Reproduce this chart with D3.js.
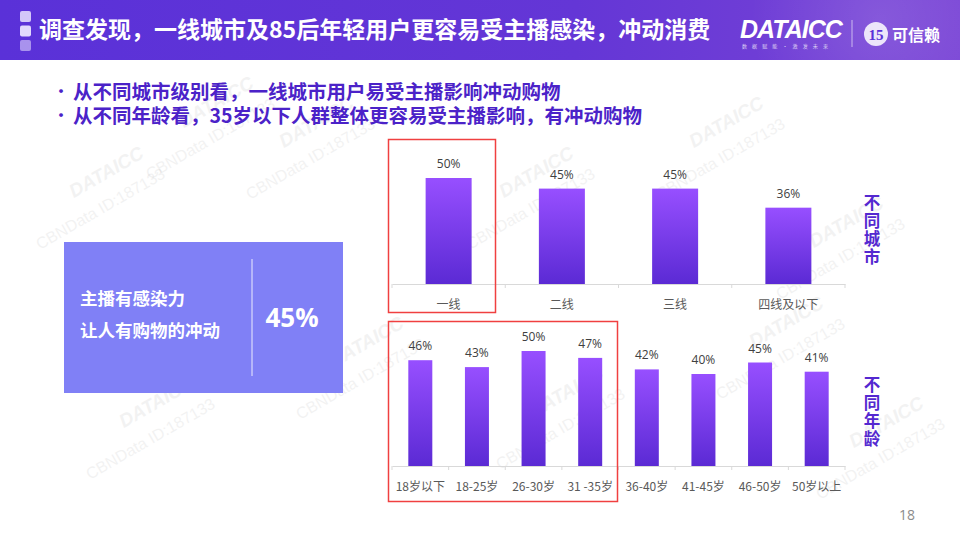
<!DOCTYPE html>
<html><head><meta charset="utf-8">
<script src="https://cdn.jsdelivr.net/npm/d3@7/dist/d3.min.js"></script>
<style>
body{margin:0;background:#fff;}
svg{display:block;font-family:"Noto Sans CJK SC","Microsoft YaHei",sans-serif;}
</style></head>
<body><svg id="c" width="960" height="540"></svg>
<script>
const titleText = "调查发现，一线城市及85后年轻用户更容易受主播感染，冲动消费";
const bullets = ["从不同城市级别看，一线城市用户易受主播影响冲动购物", "从不同年龄看，35岁以下人群整体更容易受主播影响，有冲动购物"];
const cityCats = ["一线", "二线", "三线", "四线及以下"];
const cityVals = [50, 45, 45, 36];
const ageCats = ["18岁以下", "18-25岁", "26-30岁", "31 -35岁", "36-40岁", "41-45岁", "46-50岁", "50岁以上"];
const ageVals = [46, 43, 50, 47, 42, 40, 45, 41];
const kpiLines = ["主播有感染力", "让人有购物的冲动"];
const kpiValue = "45%";
const sideLabels = ["不同城市", "不同年龄"];
const pageNum = "18";

const svg = d3.select("#c");
const defs = svg.append("defs");
const hg = defs.append("linearGradient").attr("id","hg").attr("x1","0").attr("x2","1").attr("y1","0").attr("y2","0");
hg.append("stop").attr("offset","0").attr("stop-color","#5a31d8");
hg.append("stop").attr("offset","0.6").attr("stop-color","#6436d6");
hg.append("stop").attr("offset","1").attr("stop-color","#7a45d6");
const bg = defs.append("linearGradient").attr("id","bg").attr("x1","0").attr("x2","0").attr("y1","0").attr("y2","1");
bg.append("stop").attr("offset","0").attr("stop-color","#974fff");
bg.append("stop").attr("offset","1").attr("stop-color","#5b2ad4");
const rg = defs.append("radialGradient").attr("id","rg");
rg.append("stop").attr("offset","0").attr("stop-color","#ffffff").attr("stop-opacity",0.12);
rg.append("stop").attr("offset","1").attr("stop-color","#ffffff").attr("stop-opacity",0);
const clip = defs.append("clipPath").attr("id","hc");
clip.append("rect").attr("x",0).attr("y",0).attr("width",960).attr("height",60);

// header
svg.append("rect").attr("x",0).attr("y",0).attr("width",960).attr("height",60).attr("fill","url(#hg)");
svg.append("circle").attr("cx",880).attr("cy",20).attr("r",130).attr("fill","url(#rg)").attr("clip-path","url(#hc)");
[0.85,0.95,0.55].forEach((op,i)=>{
  svg.append("rect").attr("x",20).attr("y",11+i*14.5).attr("width",11).attr("height",11).attr("rx",2)
    .attr("fill","#e9e2ff").attr("opacity",op);
});
svg.append("text").attr("x",39).attr("y",38).attr("fill","#fff").attr("font-size",23).attr("font-weight","bold").text(titleText);
// logo
svg.append("text").attr("x",740).attr("y",38).attr("fill","#fff").attr("font-size",25).attr("font-weight","bold")
  .attr("font-style","italic").attr("font-family","Arial, 'Liberation Sans', sans-serif").attr("letter-spacing",-1).text("DATAICC");
svg.append("text").attr("x",742).attr("y",48).attr("fill","#fff").attr("opacity",0.75).attr("font-size",5).attr("letter-spacing",2).text("数 据 赋 能 · 激 发 未 来");
svg.append("line").attr("x1",852).attr("x2",852).attr("y1",20).attr("y2",47).attr("stroke","#fff").attr("opacity",0.6);
svg.append("circle").attr("cx",876).attr("cy",34).attr("r",12).attr("fill","#fff").attr("opacity",0.85);
svg.append("text").attr("x",876).attr("y",40).attr("text-anchor","middle").attr("fill","#5a31d8").attr("font-size",15).attr("font-weight","bold").attr("font-family","'Liberation Serif',serif").text("15");
svg.append("text").attr("x",892).attr("y",41).attr("fill","#fff").attr("font-size",16).attr("font-weight","bold").text("可信赖");

// watermarks
const wmPos = [[40,250],[250,200],[470,250],[660,200],[90,480],[300,420],[500,470],[720,400],[780,300],[150,180],[820,500]];
wmPos.forEach(([x,y])=>{
  const g = svg.append("g").attr("transform",`translate(${x},${y}) rotate(-30)`).attr("opacity",0.07);
  g.append("text").attr("x",0).attr("y",0).attr("font-size",16).attr("fill","#555").attr("font-family","Arial,'Liberation Sans',sans-serif").text("CBNData ID:187133");
  g.append("text").attr("x",55).attr("y",-28).attr("font-size",19).attr("font-weight","bold").attr("font-style","italic").attr("fill","#555").attr("font-family","Arial,'Liberation Sans',sans-serif").text("DATAICC");
});

// bullets (one text block, one tspan pair per line)
const bt = svg.append("text").attr("fill","#4b22c8");
bullets.forEach((b,i)=>{
  const y = 99 + i*24;
  bt.append("tspan").attr("x",52).attr("y",y-1).attr("font-size",18).text("•");
  bt.append("tspan").attr("x",73).attr("y",y).attr("font-size",19.5).attr("font-weight","bold").text(b);
});

// KPI box
svg.append("rect").attr("x",64).attr("y",242).attr("width",279).attr("height",151).attr("fill","#8080f6");
svg.append("line").attr("x1",252).attr("x2",252).attr("y1",259).attr("y2",376).attr("stroke","#fff").attr("stroke-width",1).attr("opacity",0.85);
kpiLines.forEach((t,i)=>{
  svg.append("text").attr("x",80).attr("y",305+i*32).attr("fill","#fff").attr("font-size",17.5).attr("font-weight","bold").text(t);
});
svg.append("text").attr("x",292).attr("y",327).attr("text-anchor","middle").attr("fill","#fff").attr("font-size",26).attr("font-weight","bold")
  .attr("font-family","'Open Sans','Noto Sans',sans-serif").text(kpiValue);

// bar chart helper
function barChart(cats, vals, opt){
  const x = d3.scaleBand().domain(cats).range([392,845]).paddingInner(0).paddingOuter(0);
  const y = d3.scaleLinear().domain([0,100]).range([opt.base, opt.base - opt.full]);
  const g = svg.append("g");
  g.append("g").attr("transform",`translate(0,${opt.base})`)
    .call(d3.axisBottom(x).tickSize(4).tickSizeOuter(0).tickFormat(()=>""))
    .call(a=>{a.select(".domain").attr("stroke","#d9d9d9");
      a.selectAll(".tick line").remove();});
  const edges = cats.map(c=>x(c)).concat([x.range()[1]]);
  g.selectAll(".edge").data(edges).join("line").attr("x1",d=>d).attr("x2",d=>d)
    .attr("y1",opt.base).attr("y2",opt.base+4).attr("stroke","#d9d9d9");
  const bw = opt.barW;
  g.selectAll(".bar").data(vals).join("rect")
    .attr("x",(d,i)=>x(cats[i])+x.bandwidth()/2-bw/2).attr("width",bw)
    .attr("y",d=>y(d)).attr("height",d=>opt.base-y(d)).attr("fill","url(#bg)");
  g.selectAll(".val").data(vals).join("text")
    .attr("x",(d,i)=>x(cats[i])+x.bandwidth()/2).attr("y",d=>y(d)-10)
    .attr("text-anchor","middle").attr("font-size",12).attr("fill","#404040")
    .attr("font-family","'Open Sans','Noto Sans',sans-serif").text(d=>d+"%");
  g.selectAll(".cat").data(cats).join("text")
    .attr("x",d=>x(d)+x.bandwidth()/2).attr("y",opt.base+25)
    .attr("text-anchor","middle").attr("font-size",12).attr("fill","#595959").text(d=>d);
}
barChart(cityCats, cityVals, {base:284, full:212, barW:46});
barChart(ageCats, ageVals, {base:466, full:230, barW:24});

// highlight boxes
svg.append("rect").attr("x",388.5).attr("y",139.5).attr("width",107).attr("height",173).attr("fill","none").attr("stroke","#f04040").attr("stroke-width",1.5);
svg.append("rect").attr("x",388.5).attr("y",321.5).attr("width",229).attr("height",180).attr("fill","none").attr("stroke","#f04040").attr("stroke-width",1.5);

// side labels (vertical text)
const sideY = [194, 376];
sideLabels.forEach((s,i)=>{
  svg.append("text").attr("x",872).attr("y",sideY[i])
    .style("writing-mode","vertical-rl").style("text-orientation","upright")
    .attr("letter-spacing",1.5)
    .attr("fill","#5428d0").attr("font-size",16.5).attr("font-weight","bold").text(s);
});

// page number
svg.append("text").attr("x",907).attr("y",520).attr("text-anchor","middle").attr("fill","#8c8c8c").attr("font-size",14)
  .attr("font-family","'Open Sans','Noto Sans',sans-serif").text(pageNum);
</script></body></html>
